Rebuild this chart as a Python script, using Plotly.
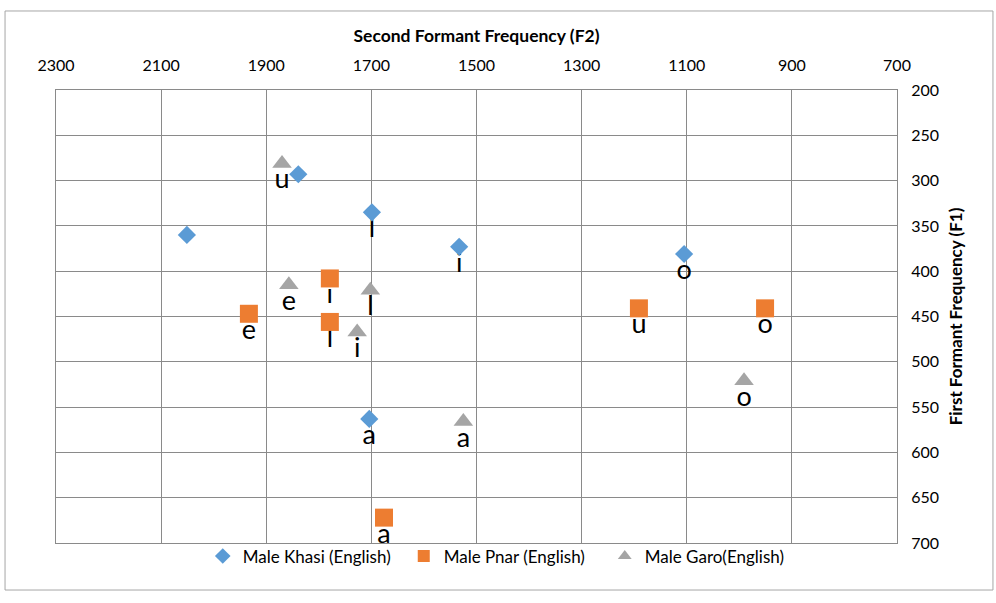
import plotly.graph_objects as go

# Data (F2 on x, F1 on y)
khasi_f2 = [1839, 2051, 1699, 1533, 1105, 1704]
khasi_f1 = [293, 360, 335, 373, 381, 563]
khasi_lbl = ["", "", "l", "i", "o", "a"]

pnar_f2 = [1779, 1933, 1779, 1191, 951, 1676]
pnar_f1 = [408, 447, 456, 441, 441, 672]
pnar_lbl = ["i", "e", "l", "u", "o", "a"]

garo_f2 = [1870, 1857, 1702, 1727, 1525, 991]
garo_f1 = [281, 415, 421, 467, 566, 521]
garo_lbl = ["u", "e", "l", "i", "a", "o"]

series = [
    ("Male Khasi (English)", khasi_f2, khasi_f1, khasi_lbl, "#5B9BD5", "diamond", 14),
    ("Male Pnar (English)", pnar_f2, pnar_f1, pnar_lbl, "#ED7D31", "square", 18),
    ("Male Garo(English)", garo_f2, garo_f1, garo_lbl, "#A5A5A5", "triangle-up", 17),
]

FONT = "Lato, 'Open Sans', sans-serif"
fig = go.Figure()

# label traces first so markers are drawn on top of them
for name, xs, ys, lbl, col, sym, sz in series:
    fig.add_trace(go.Scatter(
        x=xs, y=ys, text=lbl, mode="markers+text", textposition="bottom center",
        marker=dict(size=6, opacity=0), textfont=dict(size=27, color="black", family=FONT),
        showlegend=False, hoverinfo="skip"))

for name, xs, ys, lbl, col, sym, sz in series:
    fig.add_trace(go.Scatter(
        x=xs, y=ys, name=name, mode="markers",
        marker=dict(symbol=sym, size=sz, color=col, line=dict(width=0))))

grid = "#8A8A8A"
fig.update_layout(
    width=996, height=603,
    margin=dict(l=56, r=99, t=90, b=60),
    paper_bgcolor="white", plot_bgcolor="white",
    font=dict(family=FONT, size=16, color="black"),
    xaxis=dict(range=[2300, 700], side="top", tick0=700, dtick=200,
               showgrid=True, gridcolor=grid, gridwidth=1, zeroline=False,
               showline=True, linecolor=grid, mirror=True, ticks="",
               ticklabelstandoff=12,
               title=dict(text="<b>Second Formant Frequency (F2)</b>", standoff=7,
                          font=dict(size=17.5))),
    yaxis=dict(range=[700, 200], side="right", tick0=200, dtick=50,
               showgrid=True, gridcolor=grid, gridwidth=1, zeroline=False,
               showline=True, linecolor=grid, mirror=True, ticks="",
               ticklabelstandoff=10,
               title=dict(text="<b>First Formant Frequency (F1)</b>", standoff=12,
                          font=dict(size=17))),
    legend=dict(orientation="h", x=0.533, xanchor="center", y=0.01, yanchor="top",
                font=dict(size=17), itemsizing="constant", itemwidth=30,
                entrywidth=156, entrywidthmode="pixels", bgcolor="rgba(0,0,0,0)"),
    shapes=[dict(type="rect", xref="paper", yref="paper",
                 x0=-0.0606, x1=1.1141, y0=-0.1038, y1=1.1744,
                 line=dict(color="#A6A6A6", width=1), fillcolor="rgba(0,0,0,0)",
                 layer="below")],
)

fig.write_html("out.html")
